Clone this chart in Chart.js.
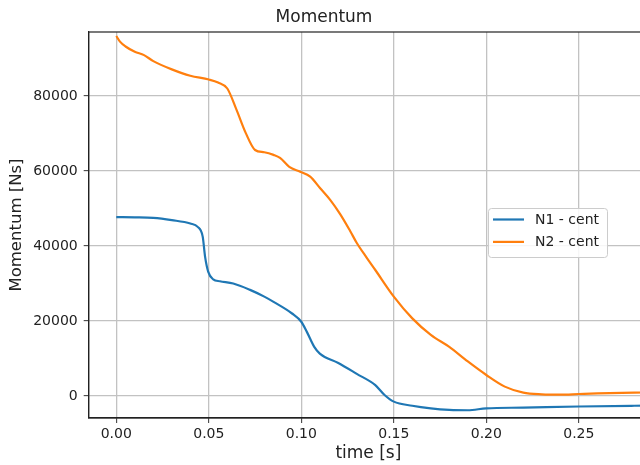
<!DOCTYPE html>
<html>
<head>
<meta charset="utf-8">
<script src="https://cdn.jsdelivr.net/npm/chart.js@4.4.1/dist/chart.umd.min.js"></script>
<style>
  html, body { margin: 0; padding: 0; background: #fff; overflow: hidden; }
  #wrap { width: 640px; height: 465px; overflow: hidden; position: relative; }
  #c { position: absolute; left: 0; top: 0; }
</style>
</head>
<body>
<div id="wrap"><canvas id="c" width="660" height="465"></canvas></div>
<script>
// ---- data ----
const chartTitle = 'Momentum';
const xTitle = 'time [s]';
const yTitle = 'Momentum [Ns]';
const seriesNames = ['N1 - cent', 'N2 - cent'];

const timeN1 = [0, 0.01, 0.02, 0.03, 0.04, 0.044, 0.0467, 0.048, 0.0497, 0.0524, 0.056, 0.0632, 0.0723, 0.08, 0.085, 0.095, 0.10, 0.103, 0.107, 0.11, 0.12, 0.13, 0.14, 0.145, 0.15, 0.16, 0.17, 0.18, 0.19, 0.20, 0.22, 0.25, 0.28, 0.29];
const momentumN1 = [47700, 47650, 47500, 46900, 46000, 45100, 42500, 37100, 33100, 31100, 30600, 30000, 28300, 26500, 25100, 22000, 19800, 17100, 13100, 11300, 8800, 5900, 2900, 270, -1500, -2600, -3300, -3700, -3800, -3300, -3100, -2800, -2600, -2550];

const timeN2 = [0, 0.002, 0.005, 0.01, 0.015, 0.02, 0.03, 0.04, 0.05, 0.055, 0.06, 0.065, 0.07, 0.075, 0.08, 0.085, 0.0885, 0.0935, 0.0994, 0.1048, 0.1102, 0.1156, 0.121, 0.1264, 0.13, 0.1353, 0.14, 0.15, 0.16, 0.17, 0.18, 0.19, 0.20, 0.21, 0.22, 0.23, 0.24, 0.25, 0.26, 0.28, 0.29];
const momentumN2 = [96000, 94500, 93200, 91800, 90900, 89300, 87100, 85400, 84400, 83600, 82000, 76300, 70100, 65600, 65000, 64300, 63500, 61100, 59800, 58500, 55400, 52300, 48500, 44000, 40800, 36900, 33600, 26500, 20700, 16300, 13100, 9200, 5600, 2500, 900, 450, 350, 530, 700, 900, 950];

const xTickValues = [0, 0.05, 0.10, 0.15, 0.20, 0.25];
const yTickValues = [0, 20000, 40000, 60000, 80000];

const seriesColors = ['#1f77b4', '#ff7f0e'];
const FONT = '"DejaVu Sans", sans-serif';

function pts(xs, ys) { return xs.map((x, i) => ({ x: x, y: ys[i] })); }

const framePlugin = {
  id: 'frame',
  afterDatasetsDraw(chart) {
    const a = chart.chartArea, ctx = chart.ctx;
    ctx.save();
    ctx.strokeStyle = '#222';
    ctx.lineWidth = 1.2;
    ctx.strokeRect(a.left, a.top, a.right - a.left, a.bottom - a.top);
    ctx.restore();
  },
  afterDraw(chart) {
    const ctx = chart.ctx;
    const bx = 488, by = 208, bw = 119, bh = 49;
    ctx.save();
    ctx.fillStyle = 'rgba(255,255,255,0.85)';
    ctx.strokeStyle = '#cccccc';
    ctx.lineWidth = 1;
    ctx.beginPath();
    ctx.roundRect(bx + 0.5, by + 0.5, bw, bh, 3);
    ctx.fill();
    ctx.stroke();
    ctx.font = '14px ' + FONT;
    ctx.textBaseline = 'middle';
    ctx.fillStyle = '#222';
    chart.data.datasets.forEach((ds, i) => {
      const ly = by + 11.5 + i * 22.4;
      ctx.strokeStyle = ds.borderColor;
      ctx.lineWidth = 2.2;
      ctx.beginPath();
      ctx.moveTo(bx + 5, ly);
      ctx.lineTo(bx + 36, ly);
      ctx.stroke();
      ctx.fillText(ds.label, bx + 47, ly + 0.5);
    });
    ctx.restore();
  }
};

new Chart(document.getElementById('c'), {
  type: 'line',
  data: {
    datasets: [
      { label: seriesNames[0], data: pts(timeN1, momentumN1), borderColor: seriesColors[0], backgroundColor: seriesColors[0] },
      { label: seriesNames[1], data: pts(timeN2, momentumN2), borderColor: seriesColors[1], backgroundColor: seriesColors[1] }
    ]
  },
  options: {
    responsive: false,
    animation: false,
    devicePixelRatio: 1,
    layout: { padding: { left: 0, right: 12, top: 0, bottom: 0 } },
    elements: {
      point: { radius: 0 },
      line: { borderWidth: 2.2, cubicInterpolationMode: 'monotone', fill: false }
    },
    plugins: {
      legend: { display: false },
      tooltip: { enabled: false },
      title: {
        display: true,
        text: chartTitle,
        color: '#222',
        font: { family: FONT, size: 17, weight: 'normal' },
        padding: { top: 7, bottom: 4.6 }
      }
    },
    scales: {
      x: {
        type: 'linear',
        min: -0.01492,
        max: 0.2874,
        afterFit(s) { s.height = 47; },
        afterBuildTicks(s) { s.ticks = xTickValues.map(v => ({ value: v })); },
        grid: { color: '#c2c2c2', lineWidth: 1.3, drawTicks: true, tickLength: 5, tickColor: '#333', tickWidth: 1 },
        border: { display: true, color: '#222', width: 1.2 },
        ticks: {
          color: '#222', padding: 3, maxRotation: 0, autoSkip: false,
          font: { family: FONT, size: 14 },
          callback: v => Number(v).toFixed(2)
        },
        title: {
          display: true, text: xTitle, color: '#222',
          font: { family: FONT, size: 17 }, padding: { top: 0, bottom: 1 }
        }
      },
      y: {
        type: 'linear',
        min: -5867,
        max: 97067,
        afterFit(s) { s.width = 88.7; },
        afterBuildTicks(s) { s.ticks = yTickValues.map(v => ({ value: v })); },
        grid: { color: '#c2c2c2', lineWidth: 1.3, drawTicks: true, tickLength: 5, tickColor: '#333', tickWidth: 1 },
        border: { display: true, color: '#222', width: 1.2 },
        ticks: {
          color: '#222', padding: 6, autoSkip: false,
          font: { family: FONT, size: 14 },
          callback: v => String(Math.round(v))
        },
        title: {
          display: true, text: yTitle, color: '#222',
          font: { family: FONT, size: 16.5 }, padding: { top: 7, bottom: 0 }
        }
      }
    }
  },
  plugins: [framePlugin]
});
</script>
</body>
</html>
